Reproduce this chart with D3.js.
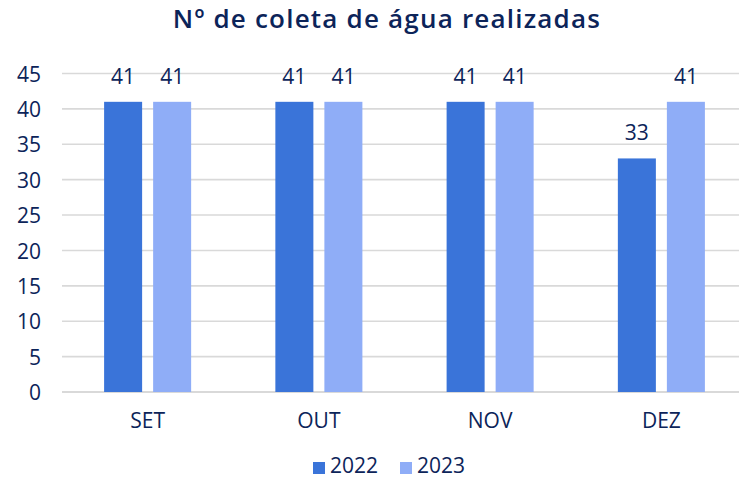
<!DOCTYPE html>
<html><head><meta charset="utf-8">
<script src="https://cdn.jsdelivr.net/npm/d3@7"></script>
<style>body{margin:0;background:#fff}svg{display:block}text{font-family:"Open Sans","Noto Sans",sans-serif;fill:#0c2459}</style>
</head><body><svg id="c" width="739" height="479"></svg>
<script>
const categories = ["SET","OUT","NOV","DEZ"];
const seriesNames = ["2022","2023"];
const values2022 = [41,41,41,33];
const values2023 = [41,41,41,41];
const yTicks = [0,5,10,15,20,25,30,35,40,45];
const colors = ["#3a74d9","#8fadf7"];
const title = "Nº de coleta de água realizadas";

const svg = d3.select("#c");
const x = d3.scaleBand().domain(categories).range([62,747]).paddingInner(0).paddingOuter(0);
const xs = d3.scaleBand().domain(seriesNames).range([0,x.bandwidth()]).paddingInner(0.2245).paddingOuter(0.859);
const y = d3.scaleLinear().domain([0,45]).range([392,73.5]);

// gridlines
svg.append("g").selectAll("line").data(yTicks).join("line")
  .attr("x1",62).attr("x2",739).attr("y1",d=>y(d)).attr("y2",d=>y(d))
  .attr("stroke","#d9d9d9").attr("stroke-width",d=>d===0?2:1.6);

// y axis
const yAxis = d3.axisLeft(y).tickValues(yTicks).tickSize(0).tickPadding(0);
const gy = svg.append("g").attr("transform","translate(41,0)").call(yAxis);
gy.select(".domain").remove();
gy.selectAll("text").style("font-size","21px").attr("dy","0.36em");

// x axis
const xAxis = d3.axisBottom(x).tickSize(0).tickPadding(0);
const gx = svg.append("g").attr("transform","translate(0,413)").call(xAxis);
gx.select(".domain").remove();
gx.selectAll("text").style("font-size","21px").attr("dy","0.71em");

const data = categories.map((c,i)=>({cat:c, vals:[values2022[i],values2023[i]]}));
const groups = svg.append("g").selectAll("g").data(data).join("g")
  .attr("transform",d=>`translate(${x(d.cat)},0)`);
groups.selectAll("rect").data(d=>d.vals.map((v,j)=>({s:seriesNames[j],v,j}))).join("rect")
  .attr("x",d=>xs(d.s)).attr("width",xs.bandwidth())
  .attr("y",d=>y(d.v)).attr("height",d=>y(0)-y(d.v))
  .attr("fill",d=>colors[d.j]);
groups.selectAll("text.lbl").data(d=>d.vals.map((v,j)=>({s:seriesNames[j],v,j}))).join("text")
  .attr("class","lbl").attr("text-anchor","middle")
  .attr("x",d=>xs(d.s)+xs.bandwidth()/2).attr("y",d=>y(d.v)-18)
  .style("font-size","21px").text(d=>d.v);

// title
svg.append("text").attr("x",387).attr("y",28).attr("text-anchor","middle")
  .style("font-size","26px").style("font-weight","600").style("letter-spacing","1.2px").text(title);

// legend
const leg = svg.append("g");
const legX = [313,400];
seriesNames.forEach((s,i)=>{
  leg.append("rect").attr("x",legX[i]).attr("y",462).attr("width",12).attr("height",12).attr("fill",colors[i]);
  leg.append("text").attr("x",legX[i]+17).attr("y",473).style("font-size","21px").text(s);
});
</script></body></html>
